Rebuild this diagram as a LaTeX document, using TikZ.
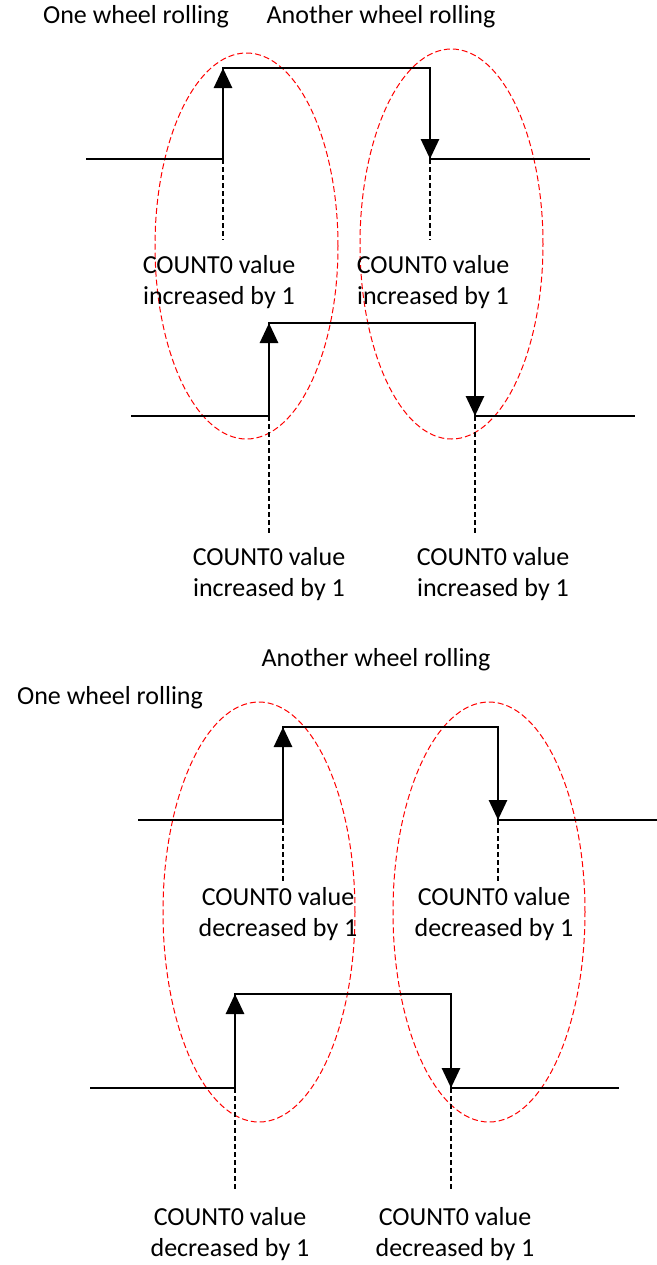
\documentclass[tikz,border=0pt]{standalone}
\usepackage{fontspec}
\setmainfont{Carlito}
\usetikzlibrary{arrows.meta}
\tikzset{
  wave/.style={line width=1.4pt, line join=miter},
  edgearrow/.style={line width=1.4pt, -{Triangle[length=10pt,width=9pt]}},
  guide/.style={line width=0.6pt, dash pattern=on 2.5pt off 1.5pt},
  wheel/.style={draw=red, line width=0.5pt, dash pattern=on 3pt off 1.5pt},
  lbl/.style={align=center, font=\fontsize{13}{15.8}\selectfont, inner sep=0pt},
}

\begin{document}
\begin{tikzpicture}[x=0.5pt, y=-0.5pt]
  \useasboundingbox (0,0) rectangle (657,1265);

  % titles
  \node[lbl] (oneA) at (136,17) {One wheel rolling};
  \node[lbl] (anotherA) at (381,17) {Another wheel rolling};
  \node[lbl] (anotherB) at (376,660) {Another wheel rolling};
  \node[lbl] (oneB) at (110,698) {One wheel rolling};

  % wheels
  \draw[wheel] (246.5,246) ellipse [x radius=45.75pt, y radius=96.5pt];
  \draw[wheel] (451.5,244) ellipse [x radius=45.75pt, y radius=97.5pt];
  \draw[wheel] (259,912) ellipse [x radius=48pt, y radius=105pt];
  \draw[wheel] (489,912) ellipse [x radius=48pt, y radius=105pt];

  % pulses: name/start/rise/fall/end/low/high/guide end/label x/label x/label y/word
  \foreach \n/\xa/\xr/\xf/\xb/\ylo/\yhi/\yg/\xl/\xm/\yl/\word in {
      A/86/223/430/590/159/68/240/219/433/282/increased,
      B/131/269/475/635/416/323/535/269/493/574/increased,
      C/138/283/498/657/820/727/883/278/494/914/decreased,
      D/90/235/451/619/1088/994/1190/230/455/1234/decreased}{
    \coordinate (\n0) at (\xa,\ylo);
    \coordinate (\n r) at (\xr,\ylo);
    \coordinate (\n rh) at (\xr,\yhi);
    \coordinate (\n fh) at (\xf,\yhi);
    \coordinate (\n f) at (\xf,\ylo);
    \coordinate (\n1) at (\xb,\ylo);
    \draw[wave] (\n0) -- (\n r) -- (\n rh) -- (\n fh) -- (\n f) -- (\n1);
    \draw[edgearrow] (\n r) -- (\n rh);
    \draw[edgearrow] (\n fh) -- (\n f);
    \draw[guide] (\n r) -- (\xr,\yg);
    \draw[guide] (\n f) -- (\xf,\yg);
    \node[lbl] (\n lbl1) at (\xl,\yl) {COUNT0 value\\\word{} by 1};
    \node[lbl] (\n lbl2) at (\xm,\yl) {COUNT0 value\\\word{} by 1};
  }
\end{tikzpicture}
\end{document}
